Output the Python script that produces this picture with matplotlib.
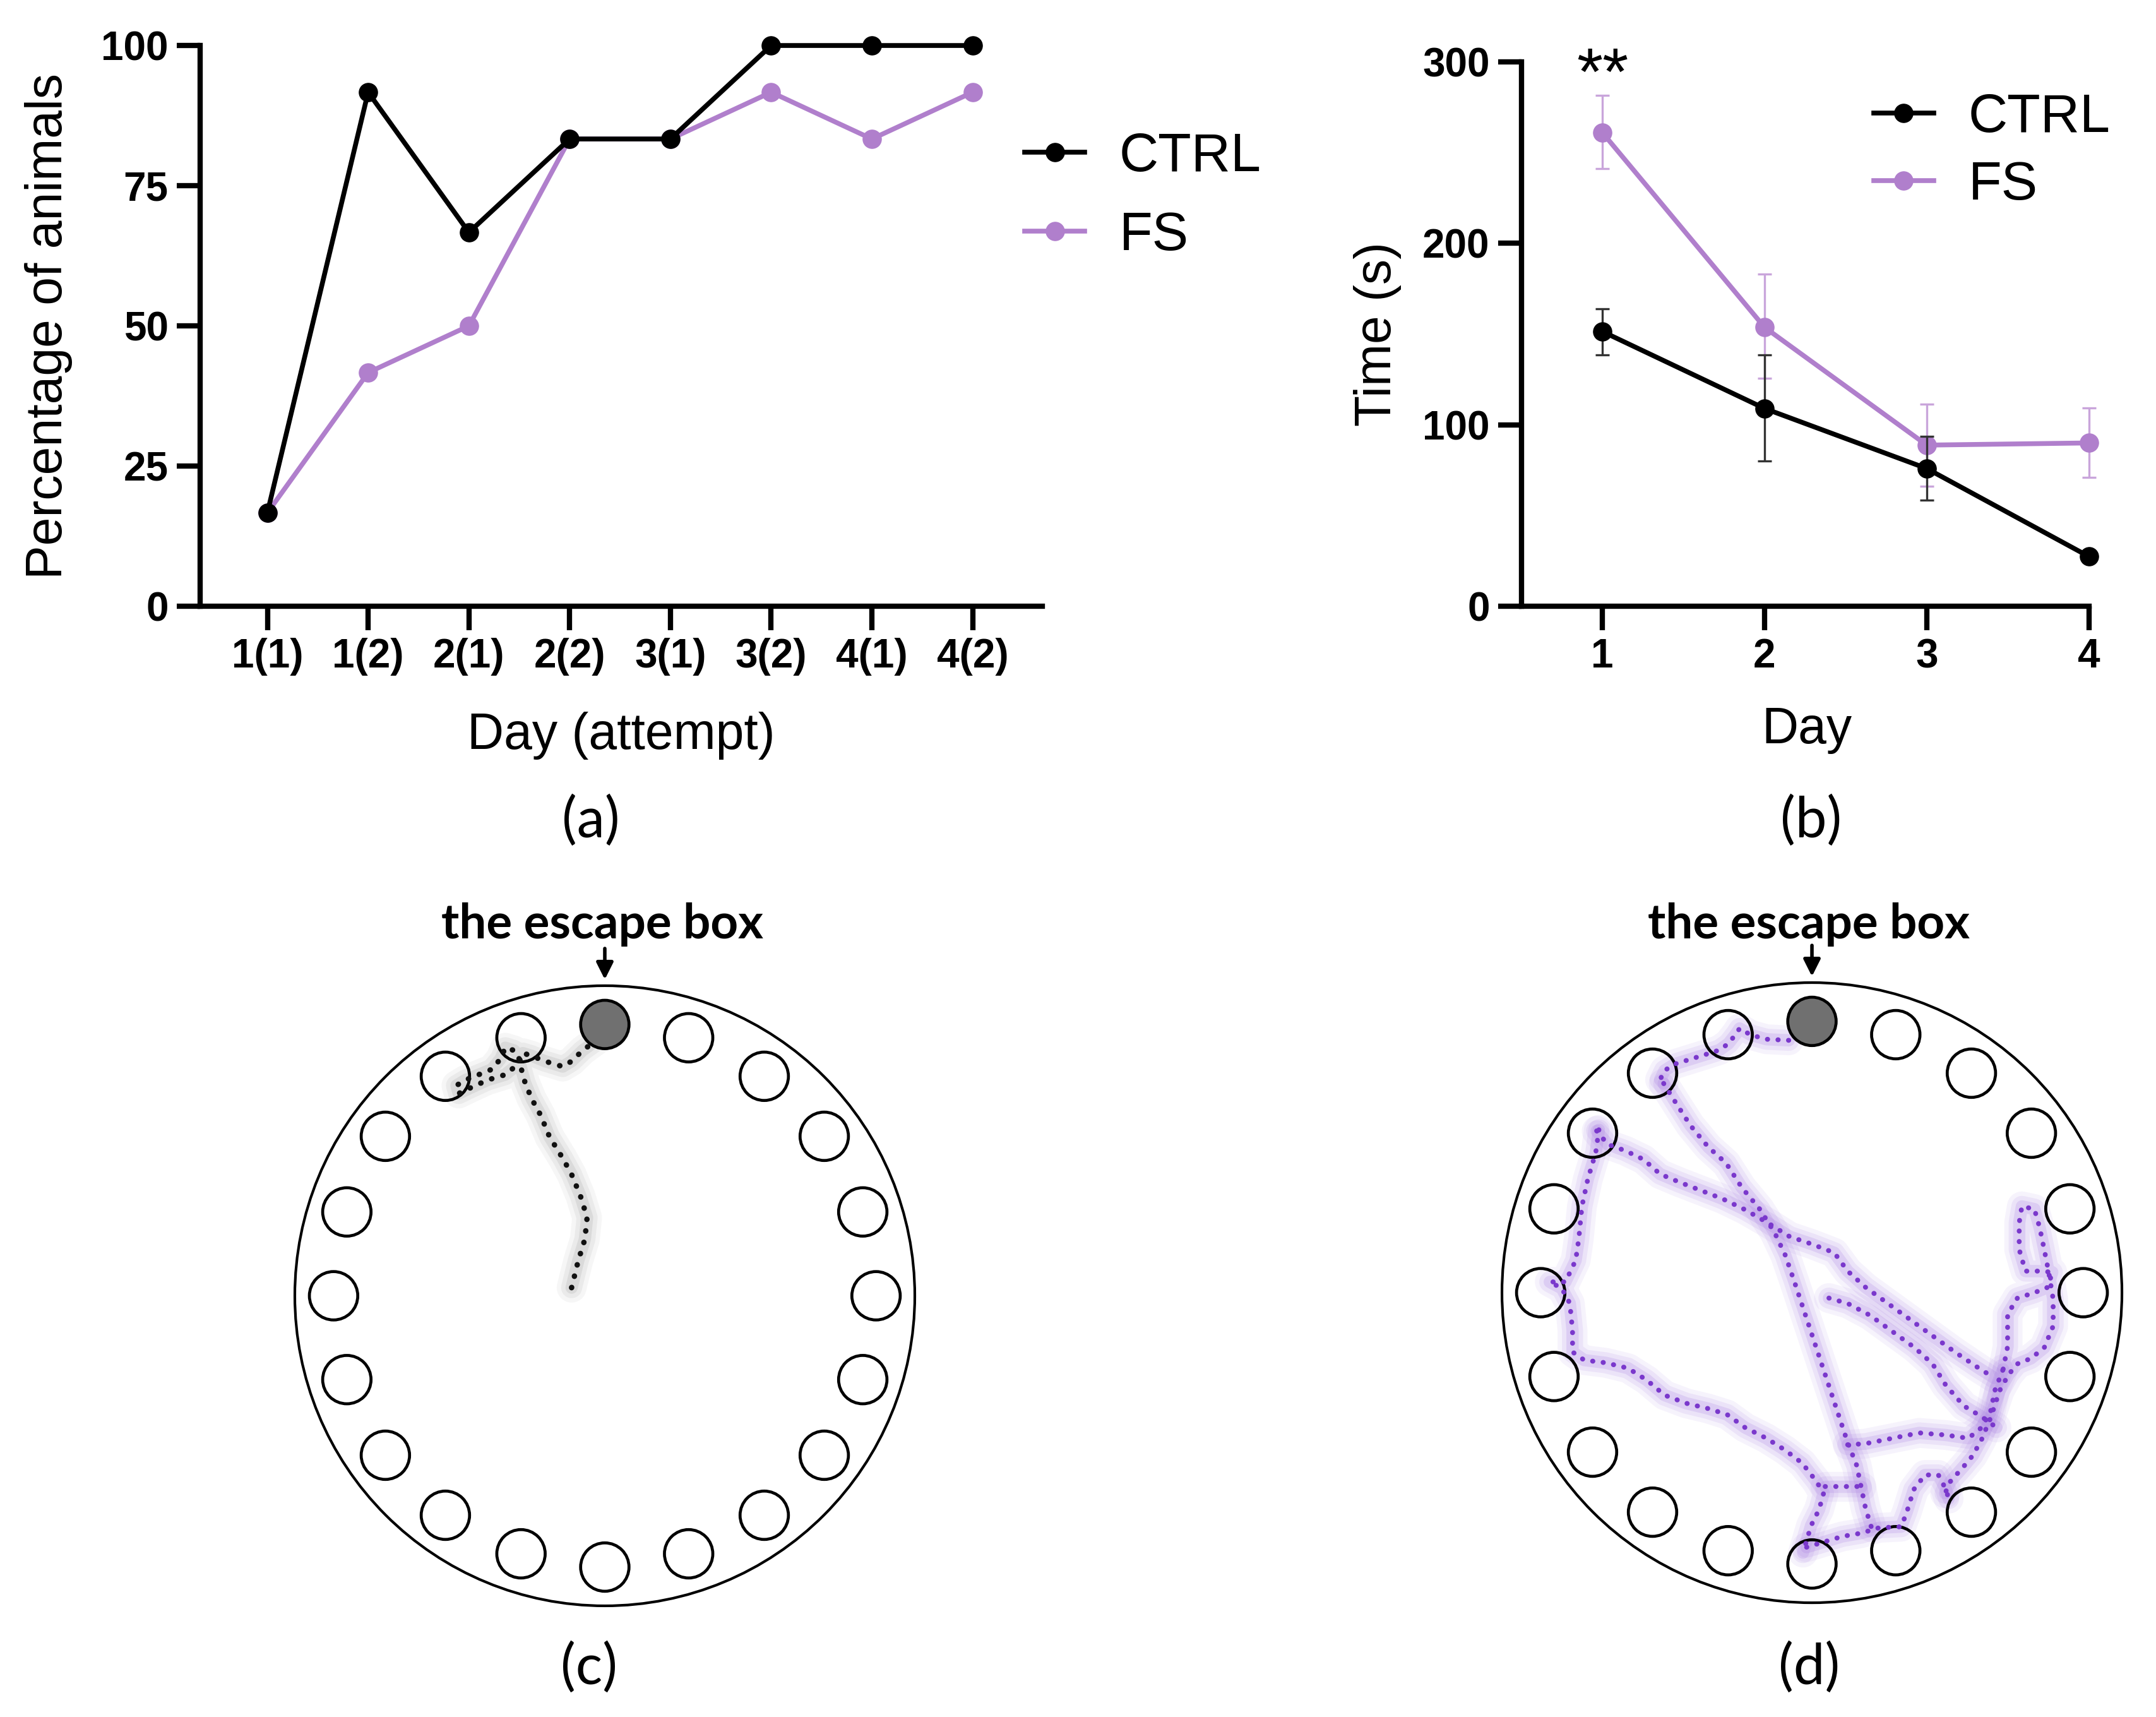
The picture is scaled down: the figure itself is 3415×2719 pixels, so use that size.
import numpy as np
import matplotlib
matplotlib.use("Agg")
import matplotlib.pyplot as plt
from matplotlib.patches import Circle

plt.rcParams['font.family'] = ['Liberation Sans', 'DejaVu Sans']

# ---------------- data ----------------
attempts = ['1(1)', '1(2)', '2(1)', '2(2)', '3(1)', '3(2)', '4(1)', '4(2)']
ctrl_pct = [16.67, 91.67, 66.67, 83.33, 83.33, 100.0, 100.0, 100.0]
fs_pct = [16.67, 41.67, 50.0, 83.33, 83.33, 91.67, 83.33, 91.67]

days = [1, 2, 3, 4]
ctrl_time = [151.4, 109.0, 75.9, 27.4]
ctrl_err_lo = [12.9, 28.8, 17.3, 1.5]
ctrl_err_hi = [12.4, 29.5, 17.8, 1.5]
fs_time = [261.0, 153.7, 88.8, 90.0]
fs_err_lo = [20.0, 27.9, 22.5, 19.0]
fs_err_hi = [20.5, 29.3, 22.5, 19.3]

series_names = ['CTRL', 'FS']
pct_yticks = [0, 25, 50, 75, 100]
time_yticks = [0, 100, 200, 300]

# Barnes maze: 20 holes, escape box at the top (index 0)
n_holes = 20
escape_index = 0

# traced trajectories (digitised pixel coords of the diagram, centre / radius below)
traj_c_centre, traj_c_scale = (795, 785), (700, 575)
traj_c = [[(720, 770), (735, 720), (750, 680), (755, 640), (740, 600), (720, 560), (700, 530),
           (670, 490), (650, 450), (630, 420), (615, 390), (605, 360), (600, 340), (590, 330),
           (570, 325), (560, 345), (540, 365), (510, 375), (480, 385), (460, 395), (465, 410),
           (490, 400), (530, 385), (570, 375), (600, 355), (610, 335), (630, 340), (660, 350),
           (700, 360), (720, 350), (745, 330), (775, 312)]]

traj_d_centre, traj_d_scale = (802, 780), (694, 575)
traj_d = [
    [(750, 312), (700, 310), (665, 302), (640, 290), (632, 300), (615, 318), (595, 330), (565, 338),
     (530, 347), (495, 356), (472, 368), (462, 385), (470, 392)],
    [(470, 392), (495, 425), (530, 470), (570, 510), (610, 540), (645, 585), (685, 625), (718, 668),
     (742, 710), (762, 758), (782, 808), (802, 858), (822, 908), (842, 958), (862, 1008), (882, 1058),
     (902, 1100), (912, 1140), (922, 1180), (935, 1215)],
    [(320, 480), (345, 505), (385, 517), (425, 533), (462, 560), (505, 575), (552, 590), (602, 606),
     (652, 626), (702, 650), (752, 676), (802, 690), (852, 706), (882, 740), (922, 770), (972, 800),
     (1022, 830), (1072, 860), (1122, 890), (1172, 918), (1210, 938)],
    [(325, 478), (318, 520), (300, 570), (287, 620), (280, 680), (273, 720), (250, 760), (215, 760),
     (242, 772), (260, 800), (266, 850), (266, 890), (292, 905), (340, 910), (390, 920), (432, 942),
     (472, 970), (520, 985), (570, 995), (612, 1006), (652, 1030), (700, 1050), (742, 1072),
     (780, 1096), (812, 1130), (828, 1152), (818, 1182), (800, 1212), (790, 1240), (782, 1262)],
    [(790, 1252), (830, 1242), (870, 1232), (912, 1226), (952, 1216), (1002, 1214), (1015, 1185),
     (1030, 1145), (1055, 1118), (1085, 1118), (1102, 1145), (1108, 1162)],
    [(882, 1062), (922, 1060), (982, 1050), (1042, 1040), (1102, 1044), (1152, 1050), (1182, 1030),
     (1202, 1000), (1212, 960), (1230, 922)],
    [(840, 790), (882, 800), (932, 822), (982, 852), (1032, 882), (1072, 912), (1102, 952),
     (1142, 990), (1182, 1010), (1215, 1030)],
    [(1230, 922), (1240, 880), (1240, 820), (1262, 790), (1300, 780), (1330, 770), (1340, 742),
     (1310, 740), (1280, 740), (1266, 700), (1266, 650), (1272, 620), (1300, 625), (1312, 660),
     (1322, 700), (1332, 742), (1342, 792), (1342, 842), (1322, 882), (1292, 902), (1262, 912),
     (1242, 932), (1222, 962), (1202, 1012), (1182, 1052), (1162, 1082), (1142, 1102), (1112, 1130),
     (1100, 1152)],
    [(832, 1140), (872, 1140), (912, 1140)],
]

# ---------------- style ----------------
FS_C = '#b07fcc'
FS_ERR = '#c9a5db'
CTRL_C = '#000000'
TICK_FS = 46
LABEL_FS = 58
LEG_FS = 62

fig = plt.figure(figsize=(34.15, 27.19), dpi=100)


def style_axes(ax):
    for s in ['top', 'right']:
        ax.spines[s].set_visible(False)
    for s in ['left', 'bottom']:
        ax.spines[s].set_linewidth(6)
    ax.tick_params(width=6, length=27, labelsize=TICK_FS, pad=9)


# ---------------- panel (a) ----------------
ax_a = fig.add_axes([0.0927, 0.6469, 0.3907, 0.3266])
xa = np.arange(len(attempts))
l_fs, = ax_a.plot(xa, fs_pct, color=FS_C, lw=5.5, marker='o', ms=21, clip_on=False, zorder=3)
l_ctrl, = ax_a.plot(xa, ctrl_pct, color=CTRL_C, lw=5.5, marker='o', ms=21, clip_on=False, zorder=4)
ax_a.set_xlim(-0.67, 7.69)
ax_a.set_ylim(0, 100)
ax_a.set_xticks(xa, attempts, fontweight='bold')
ax_a.set_yticks(pct_yticks, [str(v) for v in pct_yticks], fontweight='bold')
style_axes(ax_a)
ax_a.legend([l_ctrl, l_fs], series_names, loc='center left', bbox_to_anchor=(0.4753, 0.8854),
            bbox_transform=fig.transFigure, frameon=False, borderpad=0, borderaxespad=0,
            handlelength=1.1, handletextpad=0.64, labelspacing=0.52, fontsize=LEG_FS, numpoints=1)

# ---------------- panel (b) ----------------
ax_b = fig.add_axes([0.7056, 0.6469, 0.2633, 0.3171])
eb_fs = ax_b.errorbar(days, fs_time, yerr=[fs_err_lo, fs_err_hi], color=FS_C, ecolor=FS_ERR,
                      lw=5.5, marker='o', ms=21, elinewidth=2.4, capsize=8, capthick=2.4, zorder=3)
eb_ctrl = ax_b.errorbar(days, ctrl_time, yerr=[ctrl_err_lo, ctrl_err_hi], color=CTRL_C,
                        ecolor='#333333', lw=5.5, marker='o', ms=21, elinewidth=2.4, capsize=8,
                        capthick=2.4, zorder=4)
for cont in (eb_fs, eb_ctrl):
    for art in cont.get_children():
        art.set_clip_on(False)
ax_b.set_xlim(0.5, 4.0)
ax_b.set_ylim(0, 300)
ax_b.set_xticks(days, [str(d) for d in days], fontweight='bold')
ax_b.set_yticks(time_yticks, [str(v) for v in time_yticks], fontweight='bold')
style_axes(ax_b)
ax_b.text(days[0], 282, '**', ha='center', va='baseline', fontsize=76)
ax_b.legend([eb_ctrl.lines[0], eb_fs.lines[0]], series_names, loc='center left',
            bbox_to_anchor=(0.8691, 0.9115), bbox_transform=fig.transFigure, frameon=False,
            borderpad=0, borderaxespad=0, handlelength=1.1, handletextpad=0.64,
            labelspacing=0.31, fontsize=LEG_FS, numpoints=1)

# axis labels
fig.text(0.0225, 0.8102, 'Percentage of animals', rotation=90, ha='center', va='center', fontsize=LABEL_FS)
fig.text(0.2881, 0.5716, 'Day (attempt)', ha='center', va='center', fontsize=LABEL_FS)
fig.text(0.639, 0.8055, 'Time (s)', rotation=90, ha='center', va='center', fontsize=LABEL_FS)
fig.text(0.838, 0.5749, 'Day', ha='center', va='center', fontsize=LABEL_FS)


# ---------------- panels (c), (d) ----------------
def to_arena(pts, centre, scale):
    arr = np.asarray(pts, dtype=float)
    return (arr[:, 0] - centre[0]) / scale[0], (centre[1] - arr[:, 1]) / scale[1]


def draw_arena(ax, paths, centre, scale, dot_color, halo_color, dot_lw, dot_gap, halo_alpha):
    ax.set_xlim(-1.25, 1.25)
    ax.set_ylim(-1.25, 1.25)
    ax.set_aspect('equal')
    ax.axis('off')
    ax.add_patch(Circle((0, 0), 1.0, fill=False, ec='black', lw=3.0, zorder=1))
    ring, hole_r = 0.875, 0.078
    ang = np.deg2rad(90 + 360.0 / n_holes * np.arange(n_holes))
    for k in range(n_holes):
        hx, hy = ring * np.cos(ang[k]), ring * np.sin(ang[k])
        if k == escape_index:
            ax.add_patch(Circle((hx, hy), hole_r, fc='#707070', ec='black', lw=3.4, zorder=3))
        else:
            ax.add_patch(Circle((hx, hy), hole_r, fill=False, ec='black', lw=3.4, zorder=3))
    for p in paths:
        x, y = to_arena(p, centre, scale)
        for w, a in ((34, 0.07), (24, 0.10), (14, 0.16)):
            ax.plot(x, y, color=halo_color, lw=w, alpha=a * halo_alpha, solid_capstyle='round',
                    solid_joinstyle='round', zorder=2)
        ax.plot(x, y, color=dot_color, lw=dot_lw, linestyle=(0, (0.05, dot_gap)),
                dash_capstyle='round', zorder=4)
    ax.annotate('', xy=(0.0, 1.02), xytext=(0.0, 1.12), annotation_clip=False,
                arrowprops=dict(arrowstyle='-|>', lw=4, color='black', mutation_scale=40,
                                shrinkA=0, shrinkB=0))


ax_c = fig.add_axes([0.1008, 0.0196, 0.35945, 0.45146])
draw_arena(ax_c, traj_c, traj_c_centre, traj_c_scale, '#111111', '#8a8a8a', 6.2, 2.1, 1.0)
ax_d = fig.add_axes([0.6607, 0.0214, 0.35945, 0.45146])
draw_arena(ax_d, traj_d, traj_d_centre, traj_d_scale, '#7a38cc', '#a57ae0', 5.6, 2.1, 1.3)

for xc in (0.2794, 0.839):
    fig.text(xc, 0.4615, 'the escape box', ha='center', va='center', fontsize=55,
             fontweight='bold', family=['Lato', 'DejaVu Sans'])

for (xp, yp, lab) in [(0.2741, 0.5215, '(a)'), (0.8401, 0.5215, '(b)'),
                      (0.2732, 0.0283, '(c)'), (0.839, 0.0283, '(d)')]:
    fig.text(xp, yp, lab, ha='center', va='center', fontsize=64, family=['Lato', 'DejaVu Sans'])

fig.savefig('out.png', dpi=100)
